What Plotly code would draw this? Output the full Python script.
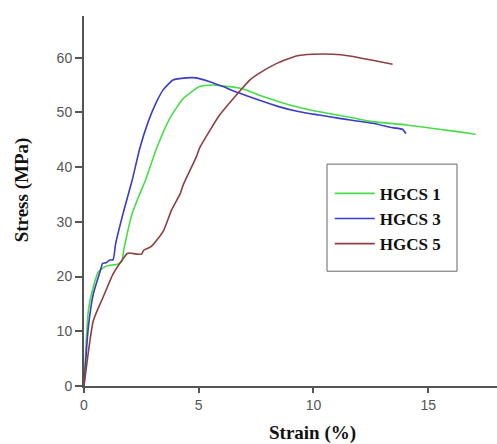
import plotly.graph_objects as go

# HGCS 1 (green)
hgcs1_strain = [0, 0.19, 0.4, 0.62, 0.91, 1.2, 1.42, 1.64, 1.74, 2.1, 2.4, 2.68, 3.16, 3.74, 4.32, 5.04, 5.62, 6.35, 6.7, 7.07, 7.65, 8.52, 9.39, 10.26, 11.57, 12.58, 14.03, 15.48, 16.93, 17.07]
hgcs1_stress = [0, 13.8, 18.0, 20.8, 21.8, 22.1, 22.2, 22.7, 25.0, 31.5, 34.8, 37.6, 43.4, 48.9, 52.5, 54.7, 55.0, 54.7, 54.5, 54.1, 53.1, 51.9, 50.9, 50.1, 49.1, 48.3, 47.7, 46.9, 46.1, 46.0]

# HGCS 3 (blue)
hgcs3_strain = [0, 0.19, 0.41, 0.72, 0.81, 0.96, 1.13, 1.27, 1.38, 1.74, 2.1, 2.43, 2.8, 3.16, 3.45, 3.88, 4.46, 4.9, 5.48, 6.06, 6.64, 7.65, 8.52, 9.39, 10.26, 11.13, 12.58, 13.45, 13.88, 14.03]
hgcs3_stress = [0, 10.8, 16.9, 21.2, 22.4, 22.5, 23.0, 23.1, 26.0, 32.1, 37.6, 43.4, 48.3, 51.9, 54.1, 55.9, 56.3, 56.3, 55.6, 54.7, 53.7, 52.2, 51.0, 50.1, 49.5, 48.9, 48.0, 47.2, 46.9, 46.1]

# HGCS 5 (brown)
hgcs5_strain = [0, 0.41, 0.84, 1.27, 1.71, 1.88, 2.0, 2.29, 2.51, 2.6, 2.9, 3.16, 3.48, 3.81, 4.2, 4.32, 4.9, 5.04, 5.91, 6.71, 7.2, 7.51, 8.38, 9.25, 9.97, 10.84, 11.57, 12.58, 13.45]
hgcs5_stress = [0, 12.0, 16.3, 20.5, 23.3, 24.2, 24.3, 24.1, 24.1, 24.8, 25.4, 26.6, 28.5, 32.1, 35.2, 36.7, 41.9, 43.5, 49.5, 53.5, 55.8, 56.8, 58.9, 60.3, 60.6, 60.6, 60.3, 59.5, 58.8]

x_ticks = [0, 5, 10, 15]
y_ticks = [0, 10, 20, 30, 40, 50, 60]

fig = go.Figure()
series = [
    ("HGCS 1", hgcs1_strain, hgcs1_stress, "#46dd46"),
    ("HGCS 3", hgcs3_strain, hgcs3_stress, "#3c3cc8"),
    ("HGCS 5", hgcs5_strain, hgcs5_stress, "#8e4040"),
]
for name, xs, ys, col in series:
    fig.add_trace(go.Scatter(x=xs, y=ys, mode="lines", name="<b>" + name + "</b>",
                             line=dict(color=col, width=1.6, shape="spline", smoothing=0.5)))

axis_common = dict(showline=True, linecolor="#555555", linewidth=2, showgrid=False,
                   zeroline=False, ticks="outside", tickcolor="#555555", tickwidth=1.5,
                   tickfont=dict(family="Liberation Sans, Arial", size=14, color="#555555"))

fig.update_layout(
    width=497, height=444,
    margin=dict(l=84, r=0, t=16, b=58),
    paper_bgcolor="white", plot_bgcolor="white",
    xaxis=dict(range=[0, 18], tickvals=x_ticks, ticklen=5, **axis_common),
    yaxis=dict(range=[0, 67.6], tickvals=y_ticks, ticklen=7, **axis_common),
    legend=dict(x=0.595, y=0.568, xanchor="left", yanchor="top",
                borderwidth=0, bgcolor="rgba(0,0,0,0)",
                font=dict(family="Liberation Serif, Times New Roman", size=17, color="#111111"),
                itemwidth=40),
    showlegend=True,
    shapes=[dict(type="rect", xref="paper", yref="paper",
                 x0=(327 - 84) / 413, x1=(457 - 84) / 413,
                 y0=(385.7 - 271) / 369.7, y1=(385.7 - 164) / 369.7,
                 line=dict(color="#666666", width=1), fillcolor="rgba(0,0,0,0)", layer="above")],
    annotations=[
        dict(text="<b>Strain (%)</b>", xref="paper", yref="paper", x=0.554, y=-0.128,
             xanchor="center", yanchor="middle", showarrow=False,
             font=dict(family="Liberation Serif, Times New Roman", size=19, color="#111111")),
        dict(text="<b>Stress (MPa)</b>", xref="paper", yref="paper", x=-0.150, y=0.529,
             xanchor="center", yanchor="middle", showarrow=False, textangle=-90,
             font=dict(family="Liberation Serif, Times New Roman", size=19, color="#111111")),
    ],
)

fig.write_html("out.html", config={"displayModeBar": False},
               post_script="document.body.style.margin='0';")
